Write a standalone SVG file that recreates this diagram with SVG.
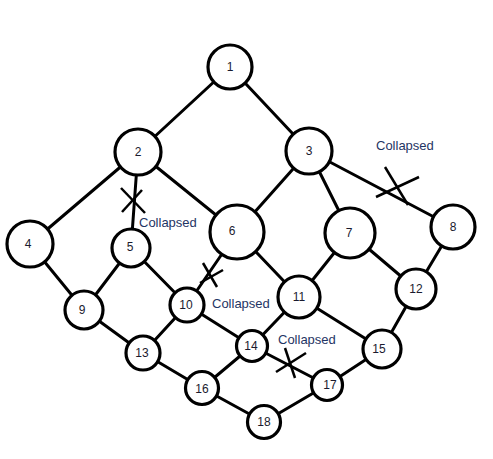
<svg xmlns="http://www.w3.org/2000/svg" width="493" height="459" viewBox="0 0 493 459">
<style>
.e{stroke:#000;stroke-width:3;fill:none;stroke-linecap:round}
.x{stroke:#000;stroke-width:2.5;fill:none}
.n circle{fill:#fff;stroke:#000;stroke-width:3.2}
.n text{font-family:"Liberation Sans",Arial,sans-serif;font-size:12px;fill:#1a1a2e;text-anchor:middle;dominant-baseline:central}
.lbl{font-family:"Liberation Sans",Arial,sans-serif;font-size:13px;fill:#1f3564}
</style>
<rect width="493" height="459" fill="#fff"/>
<g id="connectors">
<line class="e" x1="230" y1="67" x2="138" y2="152"/>
<line class="e" x1="230" y1="67" x2="309" y2="151"/>
<line class="e" x1="138" y1="152" x2="30" y2="244"/>
<line class="e" x1="138" y1="152" x2="131" y2="248"/>
<line class="e" x1="138" y1="152" x2="237" y2="232"/>
<line class="e" x1="309" y1="151" x2="237" y2="232"/>
<line class="e" x1="309" y1="151" x2="350" y2="233"/>
<line class="e" x1="309" y1="151" x2="453" y2="227"/>
<line class="e" x1="30" y1="244" x2="84" y2="310"/>
<line class="e" x1="131" y1="248" x2="84" y2="310"/>
<line class="e" x1="131" y1="248" x2="187" y2="305"/>
<line class="e" x1="237" y1="232" x2="187" y2="305"/>
<line class="e" x1="237" y1="232" x2="299" y2="297"/>
<line class="e" x1="350" y1="233" x2="299" y2="297"/>
<line class="e" x1="350" y1="233" x2="416" y2="289"/>
<line class="e" x1="453" y1="227" x2="416" y2="289"/>
<line class="e" x1="84" y1="310" x2="143" y2="353"/>
<line class="e" x1="187" y1="305" x2="143" y2="353"/>
<line class="e" x1="187" y1="305" x2="252" y2="346"/>
<line class="e" x1="299" y1="297" x2="252" y2="346"/>
<line class="e" x1="299" y1="297" x2="382" y2="349"/>
<line class="e" x1="416" y1="289" x2="382" y2="349"/>
<line class="e" x1="143" y1="353" x2="202" y2="388"/>
<line class="e" x1="252" y1="346" x2="202" y2="388"/>
<line class="e" x1="252" y1="346" x2="327" y2="385"/>
<line class="e" x1="382" y1="349" x2="327" y2="385"/>
<line class="e" x1="202" y1="388" x2="264" y2="422"/>
<line class="e" x1="327" y1="385" x2="264" y2="422"/>
<!-- collapse marks -->
<line class="x" x1="121" y1="188" x2="145" y2="213"/>
<line class="x" x1="122" y1="212" x2="142" y2="190"/>
<line class="x" x1="385" y1="167" x2="408" y2="205"/>
<line class="x" x1="376" y1="197" x2="419" y2="177"/>
<line class="x" x1="203" y1="263" x2="217" y2="287"/>
<line class="x" x1="200" y1="283" x2="223" y2="270"/>
<line class="x" x1="285" y1="348" x2="295" y2="378"/>
<line class="x" x1="276" y1="372" x2="306" y2="353"/>
</g>
<text class="lbl" x="139" y="227">Collapsed</text>
<text class="lbl" x="376" y="150">Collapsed</text>
<text class="lbl" x="212" y="308">Collapsed</text>
<text class="lbl" x="278" y="344">Collapsed</text>
<g id="n1" class="n"><circle cx="230" cy="67" r="22"/><text x="230" y="67">1</text></g>
<g id="n2" class="n"><circle cx="138" cy="152" r="23"/><text x="138" y="152">2</text></g>
<g id="n3" class="n"><circle cx="309" cy="151" r="23"/><text x="309" y="151">3</text></g>
<g id="n4" class="n"><circle cx="30" cy="244" r="23"/><text x="28" y="244">4</text></g>
<g id="n5" class="n"><circle cx="131" cy="248" r="19"/><text x="130" y="247">5</text></g>
<g id="n6" class="n"><circle cx="237" cy="232" r="27"/><text x="232" y="231">6</text></g>
<g id="n7" class="n"><circle cx="350" cy="233" r="25"/><text x="349" y="233">7</text></g>
<g id="n8" class="n"><circle cx="453" cy="227" r="22"/><text x="453" y="227">8</text></g>
<g id="n9" class="n"><circle cx="84" cy="310" r="19"/><text x="82" y="310">9</text></g>
<g id="n10" class="n"><circle cx="187" cy="305" r="17"/><text x="186" y="305">10</text></g>
<g id="n11" class="n"><circle cx="299" cy="297" r="21"/><text x="299" y="297">11</text></g>
<g id="n12" class="n"><circle cx="416" cy="289" r="20"/><text x="416" y="289">12</text></g>
<g id="n13" class="n"><circle cx="143" cy="353" r="17"/><text x="142" y="353">13</text></g>
<g id="n14" class="n"><circle cx="252" cy="346" r="15.5"/><text x="251" y="346">14</text></g>
<g id="n15" class="n"><circle cx="382" cy="349" r="19"/><text x="379" y="349">15</text></g>
<g id="n16" class="n"><circle cx="202" cy="388" r="16.5"/><text x="202" y="389">16</text></g>
<g id="n17" class="n"><circle cx="327" cy="385" r="15.5"/><text x="330" y="385">17</text></g>
<g id="n18" class="n"><circle cx="264" cy="422" r="16.5"/><text x="264" y="422">18</text></g>
</svg>
